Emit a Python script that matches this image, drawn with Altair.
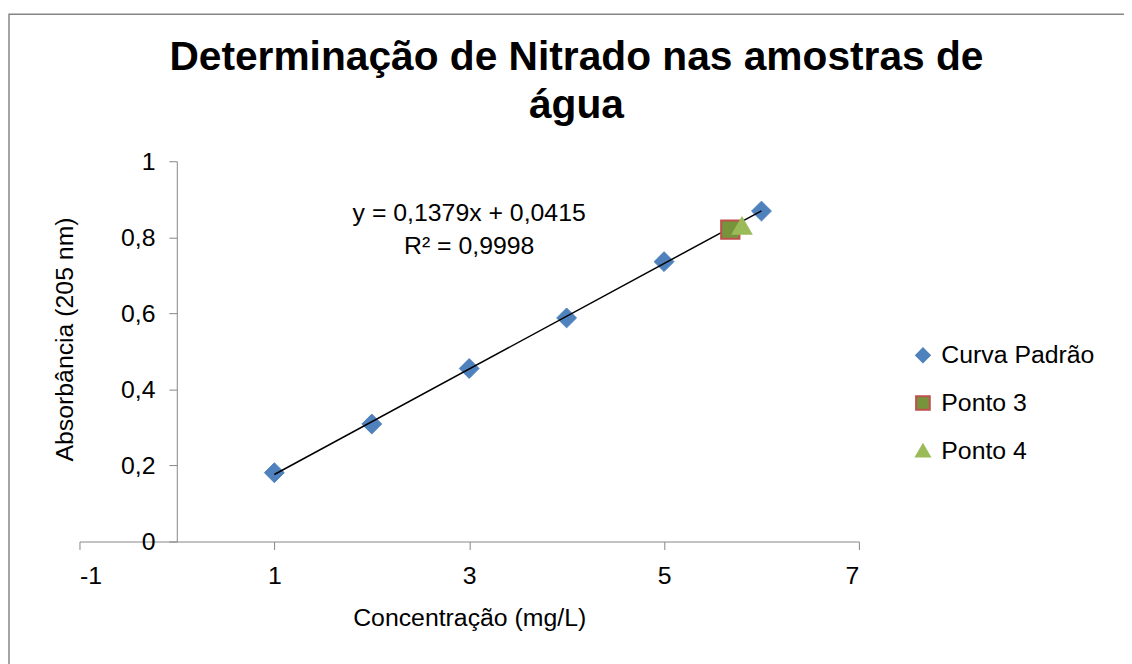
import altair as alt
import pandas as pd

# ---- data ----
conc = [1, 2, 3, 4, 5, 6]
absorb = [0.181, 0.309, 0.455, 0.588, 0.736, 0.869]
p3_x = [5.68]
p3_y = [0.820]
p4_x = [5.80]
p4_y = [0.830]
series_names = ["Curva Padrão", "Ponto 3", "Ponto 4"]
fill_colors = ["#4F81BD", "#77933C", "#9BBB59"]
stroke_colors = ["#4F81BD", "#C0504D", "#9BBB59"]
shapes = ["diamond", "square", "triangle-up"]
x_ticks = [-1, 1, 3, 5, 7]
y_ticks = [0, 0.2, 0.4, 0.6, 0.8, 1.0]
eq_lines = ["y = 0,1379x + 0,0415", "R² = 0,9998"]
eq_x = [3.0, 3.0]
eq_y = [0.865, 0.778]
title_lines = ["Determinação de Nitrado nas amostras de", "água"]

FONT = "Liberation Sans"
LABEL_EXPR = "replace(toString(datum.value), '.', ',')"

curve = pd.DataFrame({"x": conc, "y": absorb, "serie": series_names[0]})
pts = pd.concat([
    pd.DataFrame({"x": p3_x, "y": p3_y, "serie": series_names[1]}),
    pd.DataFrame({"x": p4_x, "y": p4_y, "serie": series_names[2]}),
])
eq = pd.DataFrame({"x": eq_x, "y": eq_y, "t": eq_lines})
frame_df = pd.DataFrame({"a": [0]})

xscale = alt.Scale(domain=[-1, 7], nice=False, zero=False)
yscale = alt.Scale(domain=[0, 1], nice=False)

x_enc = alt.X("x:Q", scale=xscale, axis=alt.Axis(
    values=x_ticks, title="Concentração (mg/L)", grid=False, labelExpr=LABEL_EXPR,
    domainColor="#868686", tickColor="#868686", tickSize=8,
    labelFontSize=25, labelColor="black", labelPadding=14, labelFont=FONT,
    titleFontSize=25, titleColor="black", titleFontWeight="normal", titleFont=FONT,
    titleY=77, titleBaseline="middle"))
y_enc = alt.Y("y:Q", scale=yscale, axis=alt.Axis(
    values=y_ticks, title="Absorbância (205 nm)", grid=False, offset=-98,
    labelExpr=LABEL_EXPR,
    domainColor="#868686", tickColor="#868686", tickSize=8,
    labelFontSize=25, labelColor="black", labelPadding=14, labelFont=FONT,
    titleFontSize=25, titleColor="black", titleFontWeight="normal", titleFont=FONT,
    titleX=-113, titleY=179, titleAngle=270, titleAlign="center", titleBaseline="middle"))

leg = alt.Legend(title=None, orient="none", legendX=837, legendY=183,
                 labelFontSize=25, labelFont=FONT, labelColor="black",
                 symbolSize=190, symbolStrokeWidth=2, rowPadding=22,
                 labelOffset=6, symbolOpacity=1)
fill_enc = alt.Fill("serie:N", scale=alt.Scale(domain=series_names, range=fill_colors), legend=leg)
stroke_enc = alt.Stroke("serie:N", scale=alt.Scale(domain=series_names, range=stroke_colors), legend=leg)
shape_enc = alt.Shape("serie:N", scale=alt.Scale(domain=series_names, range=shapes), legend=leg)

frame = alt.Chart(frame_df).mark_rect(fill=None, stroke="#868686", strokeWidth=1.5).encode(
    x=alt.value(-71), x2=alt.value(1100), y=alt.value(-148), y2=alt.value(560))

curve_pts = alt.Chart(curve).mark_point(filled=True, size=400, opacity=1, strokeWidth=1).encode(
    x=x_enc, y=y_enc, fill=fill_enc, stroke=stroke_enc, shape=shape_enc)

trend = alt.Chart(curve).transform_regression("x", "y").mark_line(
    color="black", strokeWidth=1.5).encode(x=alt.X("x:Q", scale=xscale), y=alt.Y("y:Q", scale=yscale))

other_pts = alt.Chart(pts).mark_point(filled=True, size=340, opacity=1, strokeWidth=2).encode(
    x=alt.X("x:Q", scale=xscale), y=alt.Y("y:Q", scale=yscale),
    fill=fill_enc, stroke=stroke_enc, shape=shape_enc)

eq_text = alt.Chart(eq).mark_text(font=FONT, fontSize=25, color="black", align="center",
                                  baseline="middle").encode(
    x=alt.X("x:Q", scale=xscale), y=alt.Y("y:Q", scale=yscale), text="t:N")

chart = alt.layer(frame, curve_pts, trend, other_pts, eq_text).properties(
    width=785, height=383,
    background="white",
    autosize=alt.AutoSizeParams(type="none"),
    padding={"left": 72, "top": 152, "right": 267, "bottom": 121},
    title=alt.TitleParams(title_lines, font=FONT, fontSize=41, fontWeight="bold",
                          color="black", anchor="middle", frame="group", dx=108,
                          lineHeight=48, offset=30, dy=144),
).configure_view(stroke=None)

chart.save("out.html", embed_options={"renderer": "svg", "actions": False})
